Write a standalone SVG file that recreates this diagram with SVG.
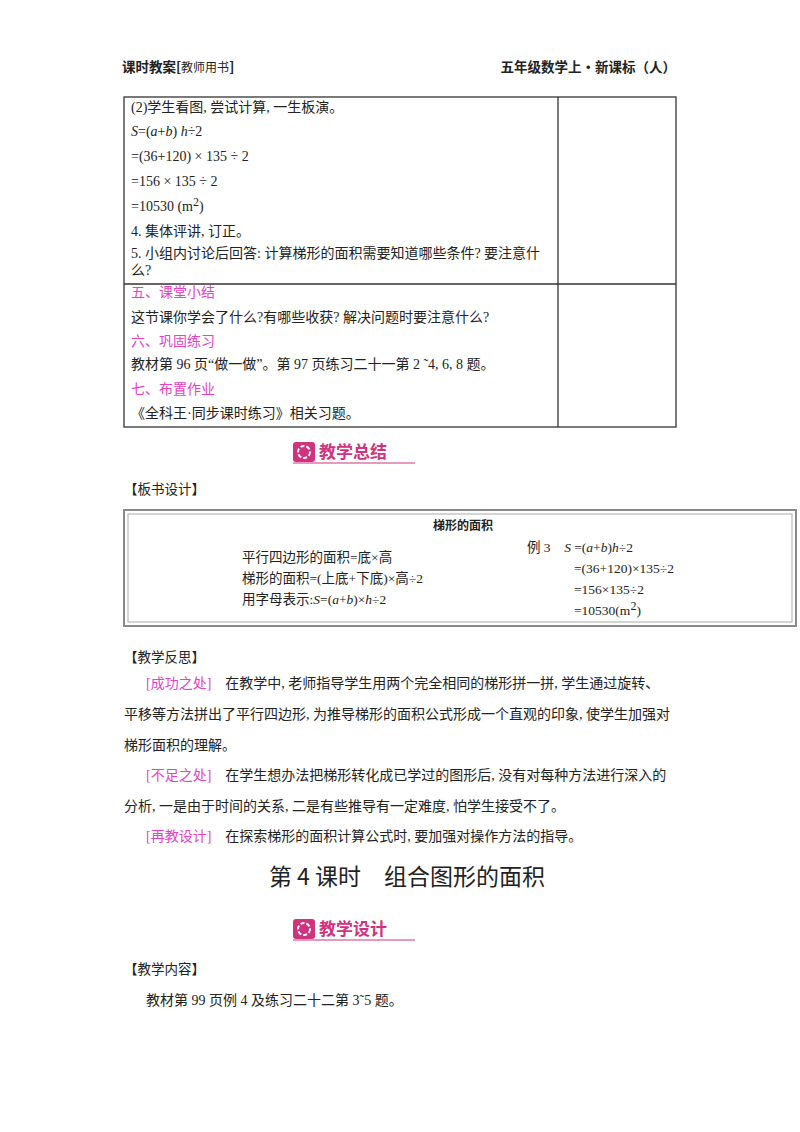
<svg xmlns="http://www.w3.org/2000/svg" width="800" height="1132" viewBox="0 0 800 1132">
<style>
text{font-family:"Liberation Serif","Noto Sans CJK SC",serif;font-size:14px;fill:#222}
.h{font-family:"Noto Sans CJK SC",sans-serif;font-size:13.5px}
.p{fill:#e83fc8}
.ln{stroke:#333;stroke-width:1.3;fill:none}
.bt{font-family:"Noto Sans CJK SC",sans-serif;font-weight:bold;font-size:17px;fill:#d0337d}
.bd{font-size:13.5px}
.big{font-size:23px;font-family:"Noto Sans CJK SC",sans-serif}
.sm{font-size:12px}
</style>
<rect width="800" height="1132" fill="#fff"/>
<g id="header">
<text class="h" x="122" y="72" font-weight="bold">课时教案[<tspan class="sm" font-weight="normal">教师用书</tspan>]</text>
<text class="h" x="676" y="72" text-anchor="end" font-weight="bold">五年级数学上·新课标（人）</text>
</g>
<g id="table">
<rect class="ln" x="124" y="97" width="552" height="330"/>
<line class="ln" x1="558" y1="97" x2="558" y2="427"/>
<line class="ln" x1="124" y1="284" x2="676" y2="284"/>
<text x="131" y="112">(2)学生看图, 尝试计算, 一生板演。</text>
<text x="131" y="136"><tspan font-style="italic">S</tspan>=(<tspan font-style="italic">a</tspan>+<tspan font-style="italic">b</tspan>) <tspan font-style="italic">h</tspan>÷2</text>
<text x="131" y="161">=(36+120) × 135 ÷ 2</text>
<text x="131" y="186">=156 × 135 ÷ 2</text>
<text x="131" y="211">=10530 (m<tspan class="sm" dy="-5">2</tspan><tspan dy="5">)</tspan></text>
<text x="131" y="236">4. 集体评讲, 订正。</text>
<text x="131" y="258">5. 小组内讨论后回答: 计算梯形的面积需要知道哪些条件? 要注意什</text>
<text x="131" y="275">么?</text>
<text class="p" x="131" y="297">五、课堂小结</text>
<text x="131" y="322">这节课你学会了什么?有哪些收获? 解决问题时要注意什么?</text>
<text class="p" x="131" y="346">六、巩固练习</text>
<text x="131" y="369">教材第 96 页“做一做”。第 97 页练习二十一第 2 ˜4, 6, 8 题。</text>
<text class="p" x="131" y="394">七、布置作业</text>
<text x="131" y="418">《全科王·同步课时练习》相关习题。</text>
</g>
<g id="banner1">
<rect x="293" y="442" width="22" height="20" rx="3" fill="#d0337d"/>
<circle cx="304" cy="452" r="6" fill="none" stroke="#fff" stroke-width="2" stroke-dasharray="4 2"/>
<text class="bt" x="319" y="458">教学总结</text>
<line x1="293" y1="463" x2="415" y2="463" stroke="#d0337d" stroke-width="1"/>
</g>
<text class="h" x="124" y="494">【板书设计】</text>
<g id="board">
<rect x="124" y="510" width="672" height="116" fill="none" stroke="#888" stroke-width="2"/>
<rect x="128" y="514" width="664" height="108" fill="none" stroke="#aaa" stroke-width="1"/>
<text class="h sm" x="463" y="530" text-anchor="middle" font-weight="bold">梯形的面积</text>
<text class="bd" x="242" y="562">平行四边形的面积=底×高</text>
<text class="bd" x="242" y="583">梯形的面积=(上底+下底)×高÷2</text>
<text class="bd" x="242" y="604">用字母表示:<tspan font-style="italic">S</tspan>=(<tspan font-style="italic">a</tspan>+<tspan font-style="italic">b</tspan>)×<tspan font-style="italic">h</tspan>÷2</text>
<text class="bd" x="527" y="552">例 3　<tspan font-style="italic">S</tspan> =(<tspan font-style="italic">a</tspan>+<tspan font-style="italic">b</tspan>)<tspan font-style="italic">h</tspan>÷2</text>
<text class="bd" x="574" y="573">=(36+120)×135÷2</text>
<text class="bd" x="574" y="594">=156×135÷2</text>
<text class="bd" x="574" y="615">=10530(m<tspan class="sm" dy="-5">2</tspan><tspan dy="5">)</tspan></text>
</g>
<g id="reflection">
<text class="h" x="124" y="662">【教学反思】</text>
<text x="146" y="688"><tspan class="p">[成功之处]</tspan>　在教学中, 老师指导学生用两个完全相同的梯形拼一拼, 学生通过旋转、</text>
<text x="124" y="719">平移等方法拼出了平行四边形, 为推导梯形的面积公式形成一个直观的印象, 使学生加强对</text>
<text x="124" y="750">梯形面积的理解。</text>
<text x="146" y="780"><tspan class="p">[不足之处]</tspan>　在学生想办法把梯形转化成已学过的图形后, 没有对每种方法进行深入的</text>
<text x="124" y="811">分析, 一是由于时间的关系, 二是有些推导有一定难度, 怕学生接受不了。</text>
<text x="146" y="841"><tspan class="p">[再教设计]</tspan>　在探索梯形的面积计算公式时, 要加强对操作方法的指导。</text>
</g>
<text class="big" x="407" y="885" text-anchor="middle">第 4 课时　组合图形的面积</text>
<g id="banner2">
<rect x="293" y="919" width="22" height="20" rx="3" fill="#d0337d"/>
<circle cx="304" cy="929" r="6" fill="none" stroke="#fff" stroke-width="2" stroke-dasharray="4 2"/>
<text class="bt" x="319" y="935">教学设计</text>
<line x1="293" y1="940" x2="415" y2="940" stroke="#d0337d" stroke-width="1"/>
</g>
<text class="h" x="124" y="974">【教学内容】</text>
<text x="146" y="1005">教材第 99 页例 4 及练习二十二第 3˜5 题。</text>
</svg>
